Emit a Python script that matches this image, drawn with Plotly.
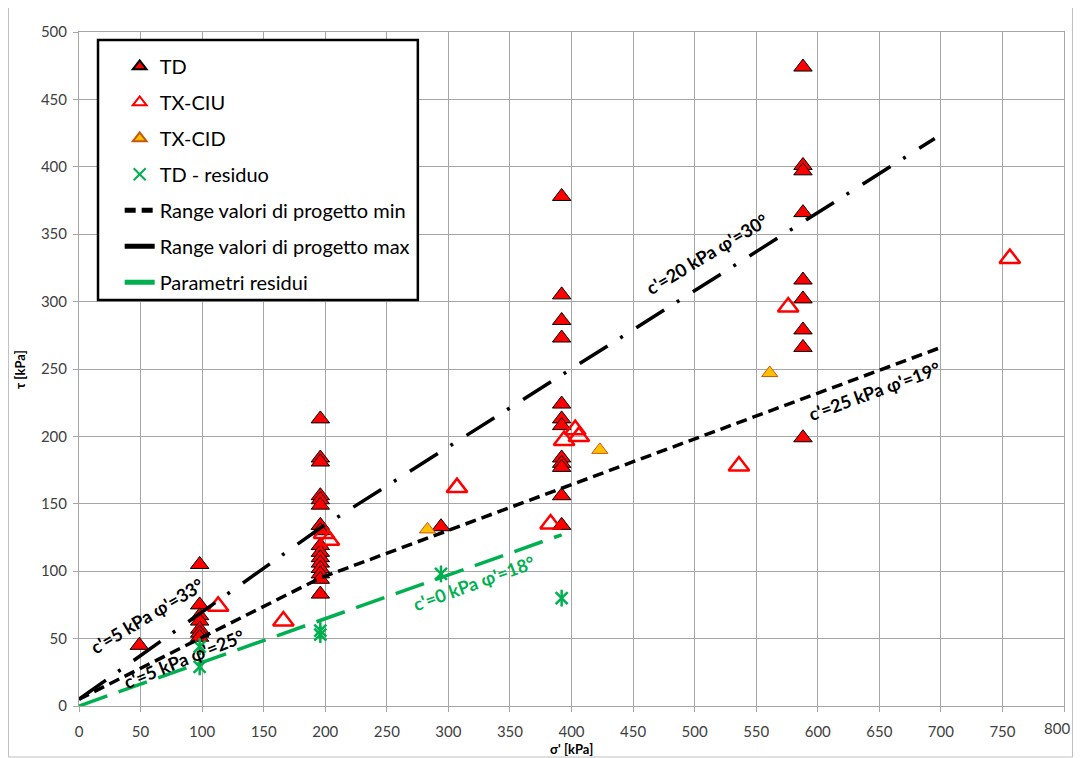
import plotly.graph_objects as go

# ---- data (kPa) ----
td_sigma = [49, 98, 98, 98, 98, 98, 98, 98,
            196, 196, 196, 196, 196, 196, 196, 196, 196, 196, 196, 196, 196, 196, 196, 196,
            294,
            392, 392, 392, 392, 392, 392, 392, 392, 392, 392, 392, 392,
            588, 588, 588, 588, 588, 588, 588, 588, 588]
td_tau = [45, 105, 75, 67, 63, 57, 54, 51,
          213, 184, 181, 156, 153, 149, 134, 130, 119, 114, 110, 106, 102, 98, 94, 83,
          133,
          378, 305, 286, 273, 224, 213, 208, 184, 180, 177, 156, 134,
          474, 401, 397, 366, 316, 302, 279, 266, 199]

ciu_sigma = [113, 166, 199, 203, 307, 383, 394, 403, 406, 536, 576, 756]
ciu_tau = [74, 63, 128, 123, 162, 135, 197, 205, 200, 178, 296, 332]

cid_sigma = [283, 423, 561]
cid_tau = [131, 190, 247]

res_sigma = [98, 98, 196, 196, 294, 392]
res_tau = [44, 29, 56, 53, 98, 80]

min_sigma = [0, 196, 700]
min_tau = [5, 95, 266]

max_sigma = [0, 196, 695]
max_tau = [5, 132, 421]

resline_sigma = [0, 392]
resline_tau = [0, 127]

x_ticks = list(range(0, 801, 50))
x_ticktext = [str(v) for v in x_ticks]
y_ticks = list(range(0, 501, 50))

labels = [
    ("c'=5 kPa φ'=33°", 55, 67, -31, "black"),
    ("c'=5 kPa φ'=25°", 85, 35, -22, "black"),
    ("c'=20 kPa φ'=30°", 510, 335, -31, "black"),
    ("c'=25 kPa φ'=19°", 646, 234, -20, "black"),
    ("c'=0 kPa φ'=18°", 321, 91, -20, "#00B050"),
]

FONT = "Lato"
GREEN = "#00B050"
TICK_COLOR = "#404040"

fig = go.Figure()

fig.add_trace(go.Scatter(
    x=td_sigma, y=td_tau, mode="markers", name="TD", legendgroup="a",
    marker=dict(symbol="triangle-up", size=16, color="#FF0000",
                line=dict(color="black", width=1))))
fig.add_trace(go.Scatter(
    x=ciu_sigma, y=ciu_tau, mode="markers", name="TX-CIU", legendgroup="b",
    marker=dict(symbol="triangle-up-open", size=18, color="#FF0000",
                line=dict(color="#FF0000", width=2.5))))
fig.add_trace(go.Scatter(
    x=cid_sigma, y=cid_tau, mode="markers", name="TX-CID", legendgroup="c",
    marker=dict(symbol="triangle-up", size=14, color="#FFC000",
                line=dict(color="#C55A11", width=1))))
fig.add_trace(go.Scatter(
    x=res_sigma, y=res_tau, mode="markers", name="TD - residuo", legendgroup="d",
    marker=dict(symbol="x-thin-open", size=12, color=GREEN,
                line=dict(color=GREEN, width=2.5))))
fig.add_trace(go.Scatter(
    x=res_sigma, y=res_tau, mode="markers", name="TD - residuo", legendgroup="d",
    showlegend=False, hoverinfo="skip",
    marker=dict(symbol="line-ns-open", size=12, color=GREEN,
                line=dict(color=GREEN, width=2.5))))
fig.add_trace(go.Scatter(
    x=min_sigma, y=min_tau, mode="lines", name="Range valori di progetto min",
    legendgroup="e", line=dict(color="black", width=3.5, dash="11px,6px")))
fig.add_trace(go.Scatter(
    x=max_sigma, y=max_tau, mode="lines", name="Range valori di progetto max",
    legendgroup="f", line=dict(color="black", width=3.5, dash="33px,15px,3px,16px")))
fig.add_trace(go.Scatter(
    x=resline_sigma, y=resline_tau, mode="lines", name="Parametri residui",
    legendgroup="g", line=dict(color=GREEN, width=3.5, dash="30px,12px")))

for text, xs, ys, ang, col in labels:
    fig.add_annotation(x=xs, y=ys, xref="x", yref="y", text=text, showarrow=False,
                       textangle=ang, font=dict(family=FONT, size=18, color=col, weight="bold"))

# the last x tick label sits at the page edge: draw it right-aligned so it stays whole
last_label = x_ticktext[-1]
x_ticktext[-1] = ""
fig.add_annotation(x=1.0081, y=-0.0326, xref="paper", yref="paper", text=last_label,
                   showarrow=False, xanchor="right", yanchor="middle",
                   font=dict(family=FONT, size=15, color=TICK_COLOR))

# axis titles
fig.add_annotation(x=0.5, y=-0.0638, xref="paper", yref="paper", text="σ' [kPa]",
                   showarrow=False, yanchor="middle",
                   font=dict(family=FONT, size=13, color="black", weight="bold"))
fig.add_annotation(x=-0.0599, y=0.5, xref="paper", yref="paper", text="τ [kPa]",
                   showarrow=False, textangle=-90, xanchor="center",
                   font=dict(family=FONT, size=13, color="black", weight="bold"))

# legend box and outer chart border
fig.add_shape(type="rect", xref="paper", yref="paper",
              x0=0.0193, x1=0.344, y0=0.6024, y1=0.988,
              fillcolor="white", line=dict(color="black", width=2.5), layer="above")
fig.add_shape(type="rect", xref="paper", yref="paper",
              x0=-0.0716, x1=1.0086, y0=-0.0757, y1=1.05,
              line=dict(color="#BFBFBF", width=1), layer="below")

axis_common = dict(showgrid=True, gridcolor="#A6A6A6", gridwidth=1,
                   showline=True, linecolor="#A6A6A6", linewidth=1, mirror=True,
                   ticks="outside", ticklen=5, tickcolor="#A6A6A6",
                   zeroline=False, automargin=False,
                   tickfont=dict(family=FONT, size=15, color=TICK_COLOR))

fig.update_xaxes(range=[0, 800], tickvals=x_ticks, ticktext=x_ticktext,
                 ticklabelstandoff=7, **axis_common)
fig.update_yaxes(range=[0, 500], tickvals=y_ticks, ticklabelstandoff=3, **axis_common)

fig.update_layout(
    width=1065, height=750,
    margin=dict(l=71, r=9, t=24, b=52, autoexpand=False),
    paper_bgcolor="white", plot_bgcolor="white",
    showlegend=True,
    legend=dict(x=0.0413, y=0.978, xanchor="left", yanchor="top",
                bgcolor="rgba(0,0,0,0)", borderwidth=0,
                font=dict(family=FONT, size=20, color="black"),
                tracegroupgap=7, itemsizing="constant"),
)

fig.write_html("out.html")
